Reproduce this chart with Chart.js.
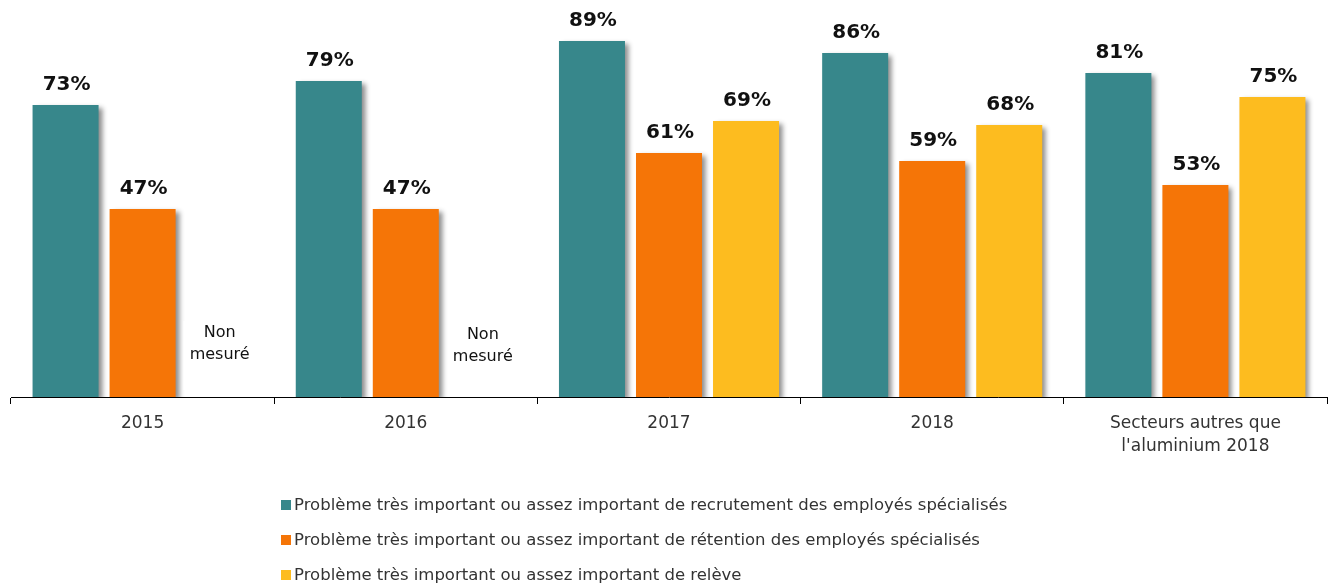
<!DOCTYPE html>
<html lang="fr">
<head>
<meta charset="utf-8">
<title>Problèmes de main-d'oeuvre spécialisée</title>
<script src="https://cdn.jsdelivr.net/npm/chart.js@4/dist/chart.umd.min.js"></script>
<style>
    html, body { margin: 0; padding: 0; background: #fff; }
    #wrap { width: 1328px; height: 585px; }
</style>
</head>
<body>
<div id="wrap"><canvas id="chart"></canvas></div>
<script>
// Categories shown on the x axis (arrays are wrapped on several lines)
const categories = ['2015', '2016', '2017', '2018', ['Secteurs autres que', "l'aluminium 2018"]];

// Percentages for each series, null where nothing was measured
const recrutement = [73, 79, 89, 86, 81];
const retention = [47, 47, 61, 59, 53];
const releve = [null, null, 69, 68, 75];

const seriesNames = [
    'Problème très important ou assez important de recrutement des employés spécialisés',
    'Problème très important ou assez important de rétention des employés spécialisés',
    'Problème très important ou assez important de relève'
];
const NOT_MEASURED = ['Non', 'mesuré'];

const FONT = '"DejaVu Sans", Verdana, sans-serif';
const TEXT_COLOR = '#333333';

//Gives every bar a soft drop shadow on its right and bottom side
const barShadow = {
    id: 'barShadow',
    beforeDatasetsDraw(chart) {
        let ctx = chart.ctx;
        ctx.save();
        ctx.shadowColor = 'rgba(0, 0, 0, 0.45)';
        ctx.shadowBlur = 5;
        ctx.shadowOffsetX = 4;
        ctx.shadowOffsetY = 3;
    },
    afterDatasetsDraw(chart) {
        chart.ctx.restore();
    }
};

//Writes the values on top of the bars, and "Non mesuré" where a value is missing
const valueLabels = {
    id: 'valueLabels',
    afterDatasetsDraw(chart) {
        let ctx = chart.ctx;
        let yScale = chart.scales.y;
        ctx.save();
        chart.data.datasets.forEach((dataset, d) => {
            let meta = chart.getDatasetMeta(d);
            meta.data.forEach((bar, i) => {
                let value = dataset.data[i];
                if (value === null) {
                    let x = bar.x;
                    let base = yScale.getPixelForValue(0);
                    // blank box behind the text, the first one hides the neighbour's shadow
                    if (i === 0) {
                        ctx.fillStyle = '#ffffff';
                        ctx.fillRect(x - bar.width / 2 - 3, base - 76, bar.width + 6, 69);
                    }
                    ctx.fillStyle = '#111111';
                    ctx.font = '16px ' + FONT;
                    ctx.textAlign = 'center';
                    ctx.textBaseline = 'middle';
                    ctx.fillText(NOT_MEASURED[0], x, base - 64 + (i ? 2 : 0));
                    ctx.fillText(NOT_MEASURED[1], x, base - 42 + (i ? 2 : 0));
                    return;
                }
                ctx.fillStyle = '#111111';
                ctx.font = 'bold 20px ' + FONT;
                ctx.textAlign = 'center';
                ctx.textBaseline = 'alphabetic';
                ctx.fillText(value + '%', bar.x + 1, bar.y - 15);
            });
        });
        ctx.restore();
    }
};

//Legend drawn as a left aligned column under the axis
const columnLegend = {
    id: 'columnLegend',
    afterDraw(chart) {
        let ctx = chart.ctx;
        let left = 281;
        let top = 505;
        let rowGap = 35;
        ctx.save();
        ctx.font = '16.5px ' + FONT;
        ctx.textBaseline = 'middle';
        ctx.textAlign = 'left';
        chart.data.datasets.forEach((dataset, d) => {
            let y = top + d * rowGap;
            ctx.fillStyle = dataset.backgroundColor;
            ctx.fillRect(left, y - 5, 10, 10);
            ctx.fillStyle = TEXT_COLOR;
            ctx.fillText(dataset.label, left + 13, y + 1);
        });
        ctx.restore();
    }
};

let ctx = document.getElementById('chart');

new Chart(ctx, {
    type: 'bar',
    data: {
        labels: categories,
        datasets: [
            { label: seriesNames[0], data: recrutement, backgroundColor: '#37878B' },
            { label: seriesNames[1], data: retention, backgroundColor: '#F57507' },
            { label: seriesNames[2], data: releve, backgroundColor: '#FDBC1F' }
        ]
    },
    options: {
        responsive: true,
        maintainAspectRatio: false,
        animation: false,
        datasets: {
            bar: {
                categoryPercentage: 0.878,
                barPercentage: 0.857
            }
        },
        layout: {
            padding: { left: 11, right: 1, top: 13, bottom: 0 }
        },
        plugins: {
            legend: { display: false },
            tooltip: { enabled: false }
        },
        scales: {
            x: {
                z: 1,
                grid: {
                    display: true,
                    drawOnChartArea: false,
                    offset: true,
                    color: '#000000',
                    tickLength: 7,
                    lineWidth: 1
                },
                border: { color: '#000000', width: 1 },
                ticks: {
                    color: TEXT_COLOR,
                    font: { family: FONT, size: 17, lineHeight: 1.3 },
                    padding: 9,
                    maxRotation: 0
                },
                afterFit(scale) {
                    scale.height = 188;
                }
            },
            y: {
                display: false,
                min: 0,
                max: 96
            }
        }
    },
    plugins: [barShadow, valueLabels, columnLegend]
});
</script>
</body>
</html>
